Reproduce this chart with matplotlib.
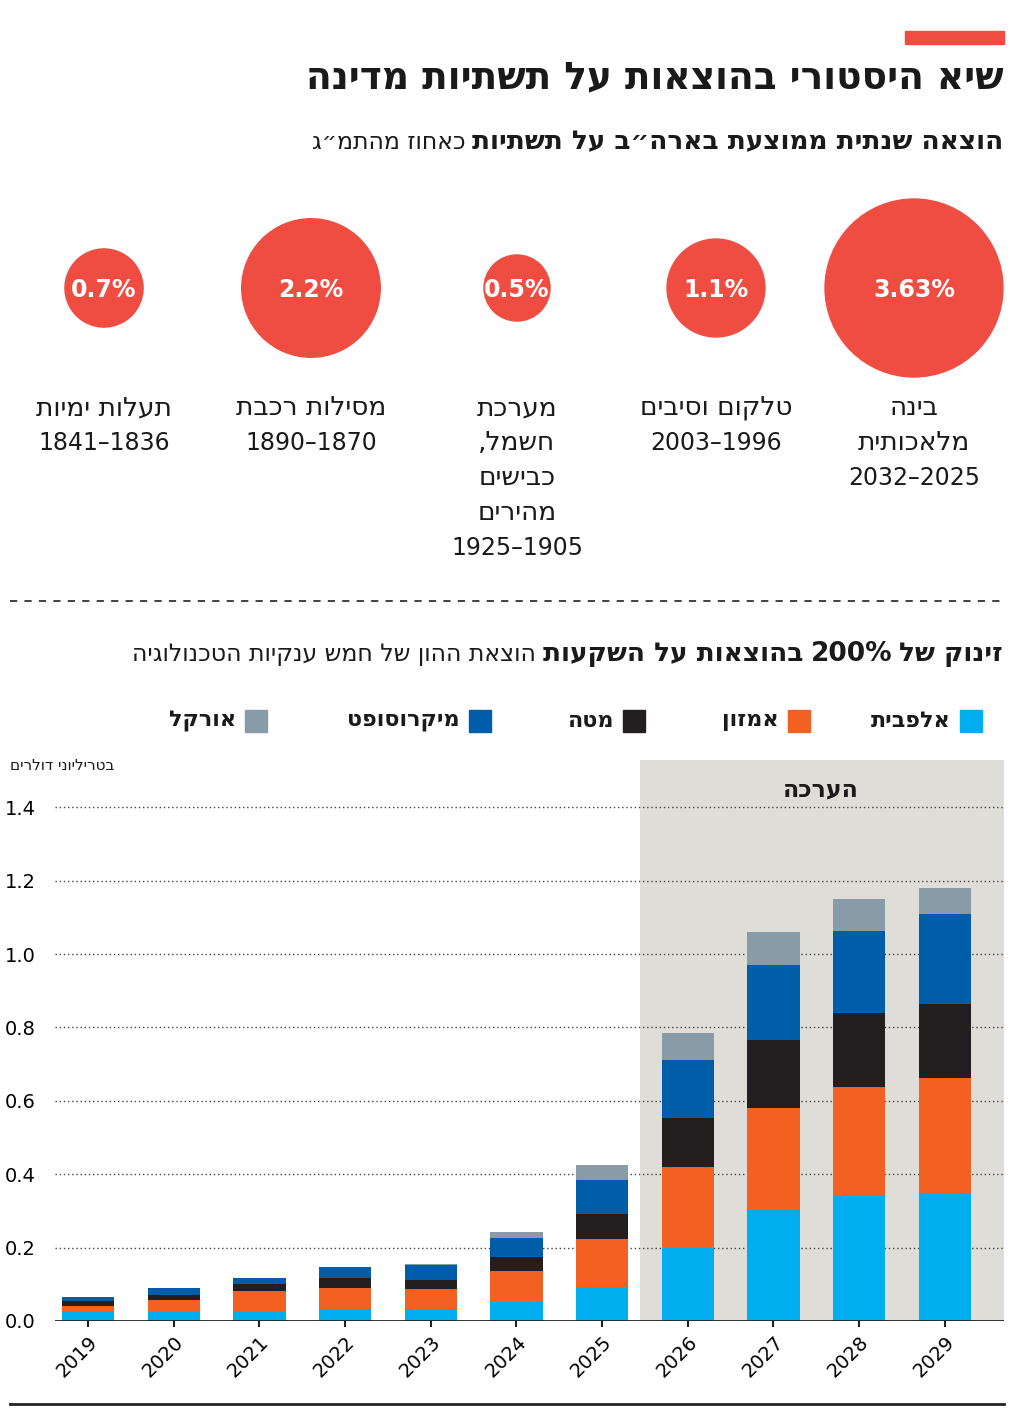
import matplotlib
matplotlib.use("Agg")
import matplotlib.pyplot as plt
from matplotlib.patches import Circle, Rectangle
import numpy as np

plt.rcParams['font.family'] = ['DejaVu Sans']

def h(s):
    return s[::-1]

years = ['2019','2020','2021','2022','2023','2024','2025','2026','2027','2028','2029']
companies = ['אלפבית','אמזון','מטה','מיקרוסופט','אורקל']
colors = ['#00AEEF','#F26122','#231F20','#005DAA','#8A9BA8']
alphabet = [0.025,0.025,0.025,0.034,0.034,0.053,0.092,0.200,0.305,0.341,0.347]
amazon   = [0.016,0.032,0.057,0.056,0.052,0.083,0.131,0.220,0.275,0.297,0.314]
meta     = [0.013,0.014,0.018,0.026,0.027,0.039,0.069,0.133,0.187,0.202,0.204]
microsoft= [0.011,0.019,0.018,0.032,0.039,0.052,0.092,0.157,0.204,0.224,0.245]
oracle   = [0.000,0.000,0.000,0.000,0.003,0.015,0.040,0.076,0.090,0.086,0.070]
series = [alphabet, amazon, meta, microsoft, oracle]

bubble_vals = [3.63, 1.1, 0.5, 2.2, 0.7]
bubble_labels = ['3.63%','1.1%','0.5%','2.2%','0.7%']
bubble_names = [['בינה','מלאכותית'],['טלקום וסיבים'],['מערכת','חשמל,','כבישים','מהירים'],['מסילות רכבת'],['תעלות ימיות']]
bubble_years = ['2032–2025','2003–1996','1925–1905','1890–1870','1841–1836']
bubble_x = [914, 716, 517, 311, 104]

W, H = 1024, 1410
fig = plt.figure(figsize=(W/100, H/100), dpi=100)
ov = fig.add_axes([0,0,1,1])
ov.set_xlim(0, W); ov.set_ylim(H, 0); ov.axis('off')

red = '#EF4D42'
ov.add_patch(Rectangle((905,31),99,13,color=red))
ov.text(1003,78,h('שיא היסטורי בהוצאות על תשתיות מדינה'),ha='right',va='center',fontsize=27,fontweight='bold',color='#1a1a1a')
t1 = ov.text(1003,142,h('הוצאה שנתית ממוצעת בארה״ב על תשתיות'),ha='right',va='center',fontsize=19,fontweight='bold',color='#1a1a1a')
fig.canvas.draw()
bb = t1.get_window_extent()
ov.text(bb.x0-6,142,h('כאחוז מהתמ״ג'),ha='right',va='center',fontsize=17,color='#1a1a1a')

for v, lab, names, yr, x in zip(bubble_vals, bubble_labels, bubble_names, bubble_years, bubble_x):
    r = 46.7*np.sqrt(v)
    ov.add_patch(Circle((x,288),r,color=red))
    ov.text(x,290,lab,ha='center',va='center',fontsize=17,fontweight='bold',color='white')
    yy = 408
    for n in names:
        ov.text(x,yy,h(n),ha='center',va='center',fontsize=19,color='#1a1a1a')
        yy += 35
    ov.text(x,yy,yr,ha='center',va='center',fontsize=17,color='#1a1a1a')

ov.plot([10,1004],[601,601],color='#333333',lw=1.3,ls=(0,(4,4)))
ov.plot([10,1004],[1404,1404],color='#222222',lw=2)

t2 = ov.text(1003,654,h('בהוצאות על השקעות')[::1],ha='right',va='center',fontsize=19,fontweight='bold',color='#1a1a1a')
# compose heading right to left
parts = [(h('זינוק של'),'bold',19),('200%','bold',19),(h('בהוצאות על השקעות'),'bold',19),(h('הוצאת ההון של חמש ענקיות הטכנולוגיה'),'normal',17)]
t2.remove()
xr = 1003
for s, w, fs in parts:
    t = ov.text(xr,654,s,ha='right',va='center',fontsize=fs,fontweight=w,color='#1a1a1a')
    fig.canvas.draw()
    xr = t.get_window_extent().x0 - 7

leg_sq = [971, 799, 634, 480, 256]
for c, name, sx in zip(colors, companies, leg_sq):
    ov.add_patch(Rectangle((sx-11,710),22,22,color=c))
    ov.text(sx-20,721,h(name),ha='right',va='center',fontsize=16,fontweight='bold',color='#1a1a1a')

ov.text(10,765,h('בטריליוני דולרים'),ha='left',va='center',fontsize=11,color='#1a1a1a')

# chart axes
left, right, bottom, top = 55, 1004, 1321, 760
ax = fig.add_axes([left/W, 1-bottom/H, (right-left)/W, (bottom-top)/H])
ax.set_zorder(2); ax.patch.set_alpha(0)
x = np.arange(len(years))
ax.set_xlim(-0.385, 10.69)
ax.set_ylim(0, 1.529)
ax.axvspan(6.44, 10.69, color='#DEDDD8', zorder=0, lw=0)
for yv in np.arange(0.2, 1.41, 0.2):
    ax.axhline(yv, color='#444444', lw=1, ls=(0,(1,2)), zorder=1)
bot = np.zeros(len(years))
for s, c in zip(series, colors):
    ax.bar(x, s, bottom=bot, width=0.61, color=c, zorder=2, lw=0)
    bot += np.array(s)
ax.axhline(0, color='#222222', lw=2, zorder=3)
for s in ax.spines.values():
    s.set_visible(False)
ax.set_xticks(x)
ax.set_xticklabels(years, rotation=45, ha='right', rotation_mode='anchor', fontsize=14)
ax.tick_params(axis='x', length=8, width=1.5, color='#222222', pad=4, direction='inout')
ax.set_yticks(np.round(np.arange(0, 1.41, 0.2), 1))
ax.set_yticklabels([f'{v:.1f}' for v in np.arange(0, 1.41, 0.2)], fontsize=14)
ax.tick_params(axis='y', length=0, pad=14)
ax.text(8.55, 1.45, h('הערכה'), ha='center', va='center', fontsize=17, fontweight='bold', color='#1a1a1a')

fig.savefig('out.png', dpi=100)
